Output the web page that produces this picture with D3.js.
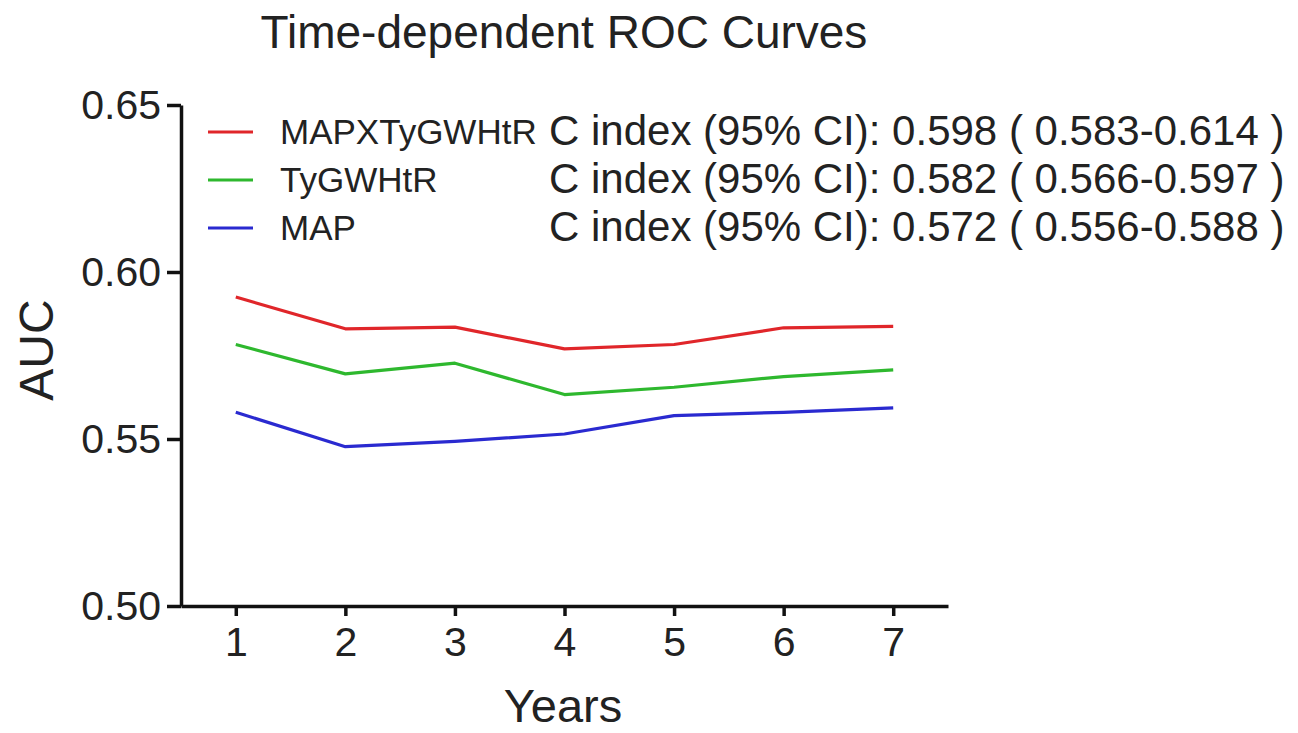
<!DOCTYPE html>
<html>
<head>
<meta charset="utf-8">
<script src="https://cdn.jsdelivr.net/npm/d3@7"></script>
<style>
  body { margin: 0; background: #fff; }
  svg text { font-family: "Liberation Sans", Arial, sans-serif; fill: #222; }
</style>
</head>
<body>
<div id="chart"></div>
<script>
const years = [1, 2, 3, 4, 5, 6, 7]
const yTicks = [0.50, 0.55, 0.60, 0.65]

const seriesNames = ['MAPXTyGWHtR', 'TyGWHtR', 'MAP']
const seriesColors = ['#e0262a', '#2eb82e', '#2a2ad0']
const cIndexText = [
    'C index (95% CI): 0.598 ( 0.583-0.614 )',
    'C index (95% CI): 0.582 ( 0.566-0.597 )',
    'C index (95% CI): 0.572 ( 0.556-0.588 )'
]

const aucMapXTyGWHtR = [0.5925, 0.5830, 0.5835, 0.5770, 0.5783, 0.5833, 0.5837]
const aucTyGWHtR = [0.5783, 0.5695, 0.5727, 0.5633, 0.5655, 0.5687, 0.5707]
const aucMap = [0.5580, 0.5477, 0.5493, 0.5515, 0.5570, 0.5580, 0.5593]

const series = [aucMapXTyGWHtR, aucTyGWHtR, aucMap]

const render = () => {
    const width = 1298,
        height = 733

    const svg = d3.select('#chart').append('svg')
        .attr('width', width)
        .attr('height', height)

    const x = d3.scaleLinear().domain([0.5, 7.5]).range([181, 948])
    const y = d3.scaleLinear().domain([0.5, 0.65]).range([606, 105])

    // title
    svg.append('text')
        .attr('x', 564)
        .attr('y', 48)
        .attr('text-anchor', 'middle')
        .style('font-size', '46px')
        .text('Time-dependent ROC Curves')

    // axes
    svg.append('g')
        .attr('transform', `translate(${x.range()[0]},0)`)
        .call(d3.axisLeft(y).tickValues(yTicks).tickFormat(d3.format('.2f')).tickSize(14).tickSizeOuter(0).tickPadding(6))

    svg.append('g')
        .attr('transform', `translate(0,${y.range()[0]})`)
        .call(d3.axisBottom(x).tickValues(years).tickFormat(d3.format('d')).tickSize(10).tickSizeOuter(0).tickPadding(11))

    svg.selectAll('.domain, .tick line')
        .style('stroke', '#111')
        .style('stroke-width', 3.5)

    svg.selectAll('.tick text')
        .style('font-size', '41px')
        .style('font-family', '"Liberation Sans", Arial, sans-serif')
        .style('fill', '#222')

    // axis titles
    svg.append('text')
        .attr('transform', 'translate(53,350) rotate(-90)')
        .attr('text-anchor', 'middle')
        .style('font-size', '48px')
        .text('AUC')

    svg.append('text')
        .attr('x', 563)
        .attr('y', 722)
        .attr('text-anchor', 'middle')
        .style('font-size', '47px')
        .text('Years')

    // lines
    const line = d3.line()
        .x((d, i) => x(years[i]))
        .y(d => y(d))

    svg.selectAll('.series')
        .data(series)
        .enter().append('path')
        .attr('class', 'series')
        .attr('d', line)
        .attr('fill', 'none')
        .attr('stroke', (d, i) => seriesColors[i])
        .attr('stroke-width', 3.2)
        .attr('stroke-linejoin', 'round')

    // legend
    const legendY = [132, 180, 228]
    const legend = svg.selectAll('.legend')
        .data(seriesNames)
        .enter().append('g')
        .attr('class', 'legend')
        .attr('transform', (d, i) => `translate(0,${legendY[i]})`)

    legend.append('line')
        .attr('x1', 208)
        .attr('x2', 253)
        .attr('stroke', (d, i) => seriesColors[i])
        .attr('stroke-width', 3.2)

    legend.append('text')
        .attr('x', 280)
        .attr('y', 12)
        .style('font-size', '35px')
        .text(d => d)

    legend.append('text')
        .attr('x', 549)
        .attr('y', 13)
        .style('font-size', '42px')
        .text((d, i) => cIndexText[i])
}

render()
</script>
</body>
</html>
